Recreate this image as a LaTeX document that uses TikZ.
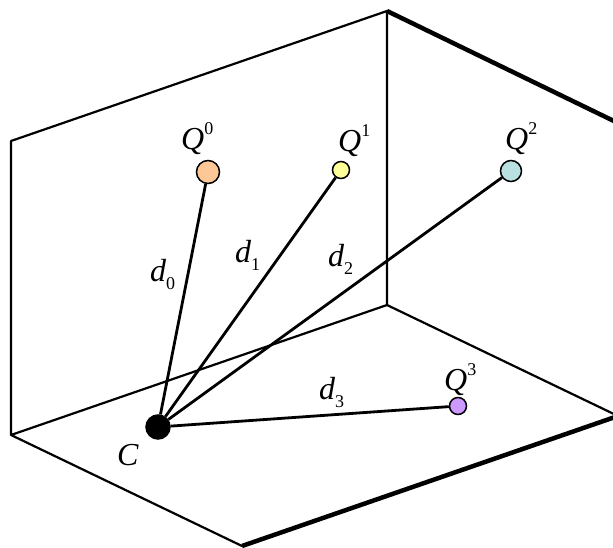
\documentclass[tikz,border=0pt]{standalone}
\usepackage{fontspec}
\setmainfont{Liberation Serif}
\usepackage{tikz}
\usetikzlibrary{positioning,calc}
\definecolor{ptorange}{RGB}{252,200,150}
\definecolor{ptyellow}{RGB}{255,255,153}
\definecolor{ptcyan}{RGB}{185,225,226}
\definecolor{ptpurple}{RGB}{204,153,255}
\newcommand{\qlab}[1]{{\itshape Q}\raisebox{15pt}{\fontsize{18}{18}\selectfont #1}}
\newcommand{\dlab}[1]{{\itshape d}\raisebox{-8pt}{\fontsize{18}{18}\selectfont #1}}
\tikzset{
    edge/.style={line width=2.2pt, black, line join=round},
    edgeT/.style={line width=4.5pt, black, line join=round},
    point/.style={circle, draw=black, line width=1.5pt, inner sep=0pt},
    dist/.style={line width=2.8pt, black},
    lbl/.style={anchor=base west, inner sep=0pt, font=\fontsize{32}{32}\selectfont},
}

\begin{document}
\begin{tikzpicture}[x=1pt, y=-1pt]
    \useasboundingbox (0,0) rectangle (613,548);
    \begin{scope}
        \clip (0,0) rectangle (613,548);
        % corners of the box
        \coordinate (bt) at (387,11);
        \coordinate (bb) at (387,305);
        \coordinate (lt) at (11,141);
        \coordinate (lb) at (11,435);
        \coordinate (fb) at (242,546);
        \coordinate (fr) at (618,416);
        \coordinate (rt) at (618,123);
        \draw[edge] (lb) -- (lt) -- (bt) -- (bb) -- (lb) -- (fb);
        \draw[edge] (bb) -- (fr);
        \draw[edgeT] (bt) -- (rt);
        \draw[edgeT] (fb) -- (fr);
    \end{scope}

    % points
    \node[point, fill=black, minimum size=24pt] (c) at (158,427) {};
    \node[point, fill=ptorange, minimum size=23pt] (q0) at (208,172) {};
    \node[point, fill=ptyellow, minimum size=17pt] (q1) at (341,170) {};
    \node[point, fill=ptcyan, minimum size=21pt] (q2) at (511,171) {};
    \node[point, fill=ptpurple, minimum size=17pt] (q3) at (458,406) {};

    % distances
    \foreach \q in {q0,q1,q2,q3} {
        \draw[dist] (c) -- (\q);
    }

    % labels
    \node[lbl] (lq0) at (181,150) {\qlab{0}};
    \node[lbl] (lq1) at (338,152) {\qlab{1}};
    \node[lbl] (lq2) at (505,150) {\qlab{2}};
    \node[lbl] (lq3) at (444,390) {\qlab{3}};
    \node[lbl] (lc) at (117,465) {\itshape C};
    \node[lbl] (ld0) at (150,281) {\dlab{0}};
    \node[lbl] (ld1) at (235,262) {\dlab{1}};
    \node[lbl] (ld2) at (328,266) {\dlab{2}};
    \node[lbl] (ld3) at (319,399) {\dlab{3}};
\end{tikzpicture}
\end{document}
